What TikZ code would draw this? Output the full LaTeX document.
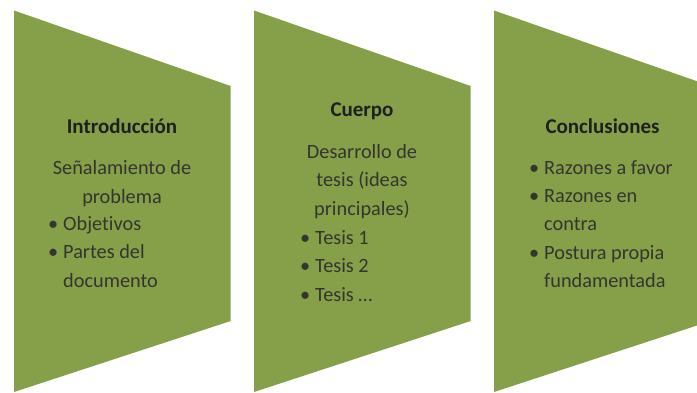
\documentclass[tikz,border=0pt]{standalone}
\usepackage{fontspec}
\setmainfont{Carlito}[Ligatures=NoCommon]
\usetikzlibrary{positioning}
\definecolor{leaf}{HTML}{86A04A}
\definecolor{ink}{HTML}{353530}
\tikzset{panel/.style={fill=leaf},
  head/.style={font=\fontsize{21}{24}\selectfont\bfseries,text=black!88,inner sep=0pt,anchor=base},
  body/.style={font=\fontsize{20.3}{24}\selectfont,text=ink,inner sep=0pt}}
\newcommand\itm{\llap{\textbullet\hspace{5pt}}}

\begin{document}
\begin{tikzpicture}[x=1pt,y=-1pt]
\useasboundingbox (0,0) rectangle (697,392);
\clip (0,0) rectangle (697,392);
% the three panels
\foreach \x in {14,254,494}
 \fill[panel] (\x,10.5) -- (\x+216.7,86) -- (\x+216.7,321) -- (\x,392) -- cycle;

% Introduccion
\node[head] (introT) at (122,133.3) {Introducción};
\foreach \t [count=\k] in {Señalamiento de,problema}
 \node[body,anchor=base] (introC\k) at (122,174.5+28.6*\k-28.6) {\t};
\foreach \t [count=\k] in {\itm Objetivos,\itm Partes del,documento}
 \node[body,anchor=base west] (introL\k) at (63,230+28.8*\k-28.8) {\t};

% Cuerpo
\node[head] (cuerpoT) at (362,116.7) {Cuerpo};
\foreach \t [count=\k] in {Desarrollo de,tesis (ideas,principales)}
 \node[body,anchor=base] (cuerpoC\k) at (362,158.3+28.4*\k-28.4) {\t};
\foreach \t [count=\k] in {\itm Tesis 1,\itm Tesis 2,\itm Tesis \dots}
 \node[body,anchor=base west] (cuerpoL\k) at (315,244+28.5*\k-28.5) {\t};

% Conclusiones
\node[head] (concT) at (602.5,133.3) {Conclusiones};
\foreach \t [count=\k] in {\itm Razones a favor,\itm Razones en,contra,\itm Postura propia,fundamentada}
 \node[body,anchor=base west] (concL\k) at (544,174+28.4*\k-28.4) {\t};
\end{tikzpicture}
\end{document}
